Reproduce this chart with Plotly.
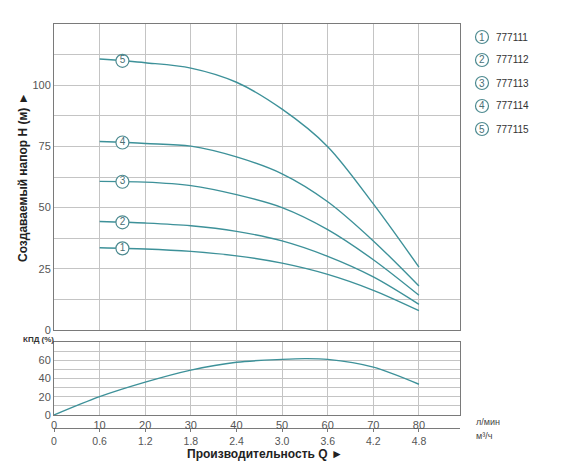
import plotly.graph_objects as go

# ---------------- data ----------------
flow_lpm = [10, 20, 30, 40, 50, 60, 70, 80]
head_777111 = [33.6, 33.1, 32.1, 30.3, 27.3, 22.7, 16.2, 7.9]
head_777112 = [44.3, 43.7, 42.6, 40.3, 36.4, 30.1, 21.7, 10.5]
head_777113 = [60.7, 60.4, 59.0, 55.3, 50.0, 41.0, 28.7, 14.2]
head_777114 = [77.0, 76.2, 75.1, 70.7, 63.8, 52.4, 36.4, 18.0]
head_777115 = [110.7, 109.2, 107.0, 101.2, 90.2, 74.9, 51.5, 25.7]
model_names = ["777111", "777112", "777113", "777114", "777115"]
marker_flow = 15

eff_flow = [0, 10, 20, 30, 40, 50, 55, 60, 70, 80]
eff_pct = [0, 20.1, 36.0, 49.2, 57.8, 61.0, 61.8, 61.0, 52.5, 33.7]

x_ticks = [0, 10, 20, 30, 40, 50, 60, 70, 80]
m3h_labels = ["0", "0.6", "1.2", "1.8", "2.4", "3.0", "3.6", "4.2", "4.8"]
h_ticks = [0, 12.5, 25, 37.5, 50, 62.5, 75, 87.5, 100, 112.5, 125]
h_labels = ["0", "", "25", "", "50", "", "75", "", "100", "", ""]
e_ticks = [0, 10, 20, 30, 40, 50, 60, 70, 80]
e_labels = ["0", "", "20", "", "40", "", "60", "", ""]

# ---------------- style ----------------
LINE = "#3d9199"
CIRC = "#4d8a90"
GRID = "#c4c4c4"
FRAME = "#7a7a7a"
TICKC = "#555555"
FONT = "Liberation Sans, Arial, sans-serif"

heads = [head_777111, head_777112, head_777113, head_777114, head_777115]

fig = go.Figure()

for i, h in enumerate(heads):
    fig.add_trace(go.Scatter(x=flow_lpm, y=h, mode="lines",
                             line=dict(color=LINE, width=1.4, shape="spline", smoothing=0.9),
                             xaxis="x", yaxis="y", showlegend=False, hoverinfo="skip"))

# numbered markers on curves
for i, h in enumerate(heads):
    yv = h[0] + (h[1] - h[0]) * (marker_flow - flow_lpm[0]) / (flow_lpm[1] - flow_lpm[0])
    fig.add_trace(go.Scatter(x=[marker_flow], y=[yv], mode="markers+text", text=[str(i + 1)],
                             textposition="middle center",
                             textfont=dict(family=FONT, size=10, color="#4a6f74"),
                             marker=dict(size=13, color="white", line=dict(color=CIRC, width=1.2)),
                             xaxis="x", yaxis="y", showlegend=False, hoverinfo="skip"))

fig.add_trace(go.Scatter(x=eff_flow, y=eff_pct, mode="lines",
                         line=dict(color=LINE, width=1.4, shape="spline", smoothing=0.9),
                         xaxis="x2", yaxis="y2", showlegend=False, hoverinfo="skip"))
# invisible trace to carry the m3/h axis
fig.add_trace(go.Scatter(x=[0, 80], y=[None, None], mode="lines", xaxis="x3", yaxis="y2",
                         showlegend=False, hoverinfo="skip"))

OFF = 8  # page body margin
W, H = 570 - OFF, 471 - OFF
ml, mr, mt, mb = 54 - OFF, 570 - 460, 24 - OFF, 471 - 428
pw, ph = W - ml - mr, H - mt - mb


def px_x(p):
    return (p - OFF - ml) / pw


def px_y(p):
    return (H - mb - (p - OFF)) / ph


xrange_ = [0, 89]
common_x = dict(range=xrange_, tickvals=x_ticks, showgrid=True, gridcolor=GRID, gridwidth=1,
                showline=True, linecolor=FRAME, linewidth=1, mirror=True, zeroline=False,
                tickfont=dict(family=FONT, size=11, color=TICKC), ticks="")

fig.update_layout(
    width=W, height=H,
    margin=dict(l=ml, r=mr, t=mt, b=mb),
    paper_bgcolor="white", plot_bgcolor="white",
    font=dict(family=FONT),
    xaxis=dict(**common_x, anchor="y", showticklabels=False),
    yaxis=dict(domain=[px_y(330), 1], range=[0, 125], tickvals=h_ticks, ticktext=h_labels,
               showgrid=True, gridcolor=GRID, showline=True, linecolor=FRAME, mirror=True,
               zeroline=False, ticks="", tickfont=dict(family=FONT, size=11, color=TICKC)),
    xaxis2=dict(**common_x, anchor="y2", showticklabels=True),
    yaxis2=dict(domain=[px_y(415), px_y(342)], range=[0, 80], tickvals=e_ticks, ticktext=e_labels,
                showgrid=True, gridcolor=GRID, showline=True, linecolor=FRAME, mirror=True,
                zeroline=False, ticks="", tickfont=dict(family=FONT, size=11, color=TICKC)),
    xaxis3=dict(range=xrange_, tickvals=x_ticks, ticktext=m3h_labels, overlaying="x2",
                anchor="free", position=0, side="bottom", showgrid=False, zeroline=False,
                showline=True, linecolor=FRAME, linewidth=1, ticks="outside", ticklen=3,
                tickcolor=FRAME, ticklabelstandoff=0,
                tickfont=dict(family=FONT, size=10.5, color=TICKC)),
)


def ann(text, x, y, size, color, xanchor="center", angle=0):
    return dict(text=text, x=px_x(x), y=px_y(y), xref="paper", yref="paper", showarrow=False,
                xanchor=xanchor, yanchor="middle", textangle=angle,
                font=dict(family=FONT, size=size, color=color))


annotations = [
    ann("<b>Создаваемый напор H (м) ►</b>", 23, 177, 12, "#222", angle=-90),
    ann("<b>Производительность Q ►</b>", 265, 454, 12, "#222"),
    ann("<b>КПД (%)</b>", 38, 339, 8, "#333"),
    ann("л/мин", 474, 422, 9, "#444", xanchor="left"),
    ann("м³/ч", 474, 436, 9, "#444", xanchor="left"),
]
shapes = []
for i, name in enumerate(model_names):
    cy = 37 + i * 23
    cx = 482
    r = 6.5
    shapes.append(dict(type="circle", xref="paper", yref="paper",
                       x0=px_x(cx - r), x1=px_x(cx + r), y0=px_y(cy + r), y1=px_y(cy - r),
                       line=dict(color=CIRC, width=1.2), fillcolor="white"))
    annotations.append(ann(str(i + 1), cx, cy, 10, "#4a6f74"))
    annotations.append(ann(name, 494, cy, 10, "#333", xanchor="left"))

fig.update_layout(annotations=annotations, shapes=shapes)

fig.write_html("out.html")
